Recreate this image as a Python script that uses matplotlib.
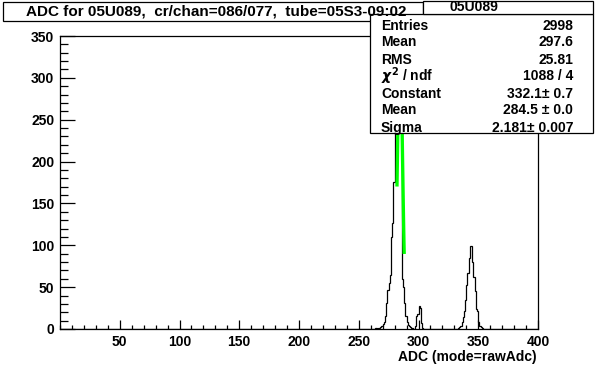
import numpy as np
import matplotlib.pyplot as plt
from matplotlib.patches import Rectangle
from matplotlib.ticker import MultipleLocator

plt.rcParams['font.family'] = ['Liberation Sans', 'DejaVu Sans']
plt.rcParams['font.weight'] = 'bold'

# histogram contents (1-unit bins from 0 to 400)
main_start = 264
main_counts = [1, 0, 1, 1, 2, 4, 6, 8, 15, 31, 47, 55, 65, 110, 127, 176,
               245, 290, 310, 300, 275, 240, 60, 50, 31, 15, 8, 5, 4, 2, 1]
small_start = 297
small_counts = [3, 15, 18, 27, 25, 7, 1]
third_start = 333
third_counts = [1, 2, 4, 8, 14, 21, 35, 52, 67, 85, 99, 99, 80, 62, 45, 24,
                22, 8, 3, 2, 1]

# gaussian fit shown in the stats box
fit_const = 332.1
fit_mean = 284.5
fit_sigma = 2.181
fit_range = (282.0, 288.0)

title = "ADC for 05U089,  cr/chan=086/077,  tube=05S3-09:02"
stats_name = "05U089"
stats_labels = ["Entries", "Mean", "RMS", r"$\chi^{2}$ / ndf", "Constant", "Mean", "Sigma"]
stats_values = ["2998", "297.6", "25.81", "1088 / 4", "332.1\u00b1 0.7",
                "284.5 \u00b1 0.0", "2.181\u00b1 0.007"]

edges = np.arange(0, 401)
counts = np.zeros(400)
for start, vals in [(main_start, main_counts), (small_start, small_counts),
                    (third_start, third_counts)]:
    counts[start:start + len(vals)] = vals

W, H = 596, 368
fig = plt.figure(figsize=(W / 100, H / 100), dpi=100)
fig.patch.set_facecolor('white')

# frame: x 60..538, y 36..329 px
ax = fig.add_axes([60 / W, 1 - 329 / H, 478 / W, 293 / H])
ax.stairs(counts, edges, color='black', linewidth=0.9)

xf = np.linspace(fit_range[0], fit_range[1], 100)
yf = fit_const * np.exp(-0.5 * ((xf - fit_mean) / fit_sigma) ** 2)
ax.plot(xf, yf, color='#00ff00', linewidth=2.4)

ax.set_xlim(0, 400)
ax.set_ylim(0, 350)
for s in ax.spines.values():
    s.set_linewidth(0.9)

ax.xaxis.set_major_locator(MultipleLocator(50))
ax.xaxis.set_minor_locator(MultipleLocator(10))
ax.yaxis.set_major_locator(MultipleLocator(50))
ax.yaxis.set_minor_locator(MultipleLocator(10))
ax.tick_params(axis='x', which='major', direction='in', length=6.5, width=0.9,
               pad=4, labelsize=10)
ax.tick_params(axis='x', which='minor', direction='in', length=3.2, width=0.9)
ax.tick_params(axis='y', which='major', direction='in', length=11, width=0.9,
               pad=4, labelsize=10)
ax.tick_params(axis='y', which='minor', direction='in', length=5.5, width=0.9)
ax.set_xticks(np.arange(50, 401, 50))
ax.set_xticklabels([str(v) for v in range(50, 401, 50)])

fig.text(537 / W, 1 - 357 / H, "ADC (mode=rawAdc)", ha='right', va='center',
         fontsize=10, fontweight='bold')

# title box
fig.patches.append(Rectangle((3 / W, 1 - 21 / H), 420 / W, 19 / H,
                             transform=fig.transFigure, facecolor='white',
                             edgecolor='black', linewidth=0.9, zorder=5))
fig.text(216 / W, 1 - 11.5 / H, title, ha='center', va='center',
         fontsize=11, fontweight='bold', zorder=6)

# stats box
fig.patches.append(Rectangle((370 / W, 1 - 133 / H), 223 / W, 119 / H,
                             transform=fig.transFigure, facecolor='white',
                             edgecolor='black', linewidth=0.9, zorder=5))
fig.patches.append(Rectangle((423 / W, 1 - 14 / H), 170 / W, 13 / H,
                             transform=fig.transFigure, facecolor='white',
                             edgecolor='black', linewidth=0.9, zorder=5))
fig.text(474 / W, 1 - 7 / H, stats_name, ha='center', va='center',
         fontsize=10, fontweight='bold', zorder=6)
row_h = 119 / len(stats_labels)
for i, (lab, val) in enumerate(zip(stats_labels, stats_values)):
    yc = 14 + row_h * (i + 0.5) + 3
    fig.text(381 / W, 1 - yc / H, lab, ha='left', va='center',
             fontsize=10, fontweight='bold', zorder=6)
    fig.text(573 / W, 1 - yc / H, val, ha='right', va='center',
             fontsize=10, fontweight='bold', zorder=6)

fig.savefig('out.png', dpi=100, facecolor='white')
